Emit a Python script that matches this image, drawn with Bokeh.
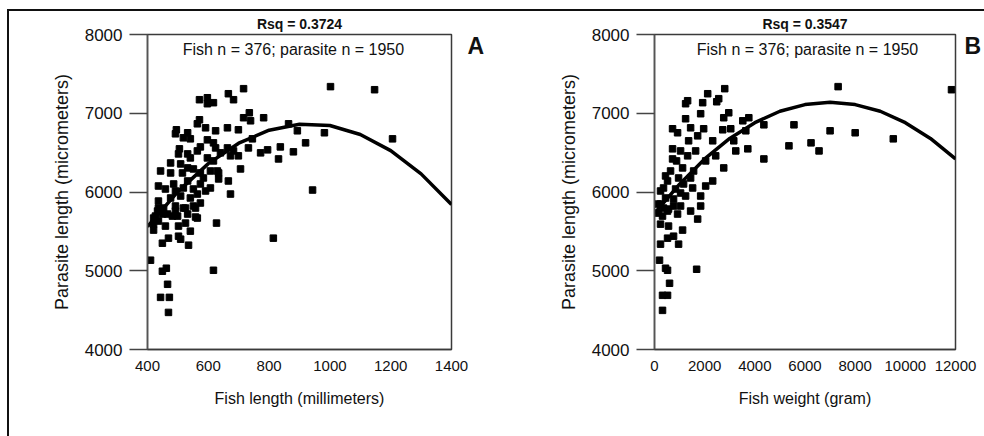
from bokeh.plotting import figure
from bokeh.models import Range1d, Label, FixedTicker, LinearAxis
from bokeh.layouts import row
from bokeh.embed import file_html
from bokeh.resources import INLINE

# ---------------- data ----------------
# Panel A: fish length (mm) vs parasite length (micrometers)
len_x = [716, 666, 683, 571, 597, 597, 617, 735, 716, 739, 782, 571, 564, 591, 624,
         663, 699, 495, 492, 532, 518, 541, 597, 617, 624, 574, 564, 505, 502, 532,
         541, 597, 663, 683, 673, 699, 640, 745, 732, 706, 772, 795, 837, 831, 880,
         864, 476, 509, 532, 443, 476, 515, 551, 574, 607, 630, 584, 607, 634, 634,
         666, 673, 436, 459, 486, 492, 518, 532, 551, 574, 476, 509, 541, 564, 436,
         453, 492, 518, 551, 574, 433, 466, 499, 532, 564, 420, 436, 426, 449, 482,
         420, 436, 492, 525, 558, 558, 627, 502, 541, 420, 469, 449, 502, 509, 535,
         814, 410, 449, 462, 617, 466, 443, 472, 469, 1002, 1147, 893, 982, 920, 1206,
         943, 459, 525, 591, 617]
len_y = [7312, 7248, 7172, 7172, 7197, 7121, 7134, 7006, 6943, 6904, 6943, 6917, 6866, 6815, 6777,
         6815, 6790, 6790, 6739, 6752, 6688, 6675, 6662, 6624, 6560, 6573, 6522, 6548, 6484, 6484,
         6433, 6433, 6560, 6522, 6459, 6459, 6497, 6675, 6560, 6293, 6497, 6535, 6573, 6420, 6510,
         6866, 6369, 6357, 6306, 6267, 6242, 6242, 6293, 6242, 6267, 6267, 6178, 6051, 6242, 6166,
         6140, 5974, 6076, 6038, 6102, 6013, 6051, 6140, 6038, 6102, 5924, 5949, 5924, 5974, 5885,
         5796, 5822, 5796, 5822, 5860, 5758, 5720, 5694, 5720, 5669, 5669, 5796, 5694, 5720, 5694,
         5592, 5631, 5758, 5796, 5796, 5682, 5605, 5567, 5503, 5516, 5414, 5350, 5439, 5401, 5325,
         5414, 5134, 4994, 5032, 5006, 4828, 4662, 4662, 4471, 7338, 7299, 6777, 6752, 6624, 6675,
         6025, 5567, 5605, 6013, 6395]

# Panel B: fish weight (g) vs parasite length (micrometers)
wt_x = [2800, 2120, 2560, 2480, 1920, 1320, 1240, 2960, 2760, 3520, 3760, 4360, 5560, 2720, 1240,
        720, 920, 1440, 1960, 1720, 2320, 3160, 3720, 3240, 5360, 6240, 6560, 4360, 2760, 2320,
        1520, 1840, 720, 1040, 1320, 720, 640, 1120, 1560, 960, 520, 360, 840, 1160, 440,
        760, 240, 560, 920, 160, 1720, 1040, 1440, 120, 360, 760, 1040, 320, 520, 240,
        560, 1120, 760, 520, 240, 960, 200, 440, 520, 1680, 600, 320, 520, 320, 7320,
        11840, 7000, 8000, 9520, 1240, 1440, 1840, 2040, 240, 880, 2040, 2440, 1640, 440, 1360,
        1840, 3040, 3640]
wt_y = [7312, 7248, 7185, 7146, 7134, 7159, 7121, 7006, 6943, 6904, 6943, 6853, 6853, 6790, 6930,
        6803, 6752, 6815, 6803, 6713, 6650, 6650, 6548, 6522, 6586, 6624, 6522, 6420, 6306, 6140,
        6051, 5949, 6548, 6522, 6459, 6420, 6267, 6306, 6267, 6178, 6140, 6051, 6038, 6102, 5924,
        5911, 5847, 5783, 5720, 5732, 5656, 5987, 6178, 5847, 5796, 5822, 5822, 5694, 5758, 5592,
        5567, 5516, 5439, 5414, 5338, 5338, 5134, 5032, 5006, 5019, 4841, 4688, 4688, 4497, 7338,
        7299, 6777, 6752, 6675, 5949, 5758, 5822, 6076, 6013, 6395, 6395, 6459, 6522, 6204, 6650,
        6994, 6803, 6777]

# Quadratic fit lines
fit_len_x = [400, 500, 600, 700, 800, 900, 1000, 1100, 1200, 1300, 1400]
fit_len_y = [5560, 6005, 6360, 6620, 6785, 6860, 6845, 6730, 6525, 6230, 5840]
fit_wt_x = [0, 1000, 2000, 3000, 4000, 5000, 6000, 7000, 8000, 9000, 10000, 11000, 12000]
fit_wt_y = [5730, 6100, 6420, 6680, 6880, 7025, 7110, 7140, 7110, 7025, 6880, 6680, 6420]

y_ticks = [4000, 5000, 6000, 7000, 8000]
len_ticks = [400, 600, 800, 1000, 1200, 1400]
wt_ticks = [0, 2000, 4000, 6000, 8000, 10000, 12000]
letter_level = 7850  # vertical position of the panel letters (A, B)

FONT = "Liberation Sans"


def panel(xs, ys, fx, fy, xr, xticks, xlabel, rsq, letter, width, bl, br,
          title_offset, note_x, letter_standoff):
    p = figure(width=width, height=425, output_backend="svg", toolbar_location=None,
               x_range=Range1d(*xr), y_range=Range1d(4000, 8000),
               min_border_left=bl, min_border_right=br, min_border_top=23,
               min_border_bottom=87)
    p.xgrid.visible = False
    p.ygrid.visible = False
    p.outline_line_color = "#3a3a3a"
    p.outline_line_width = 1.5
    p.background_fill_color = "white"
    p.border_fill_color = "white"

    p.title.text = rsq
    p.title.align = "center"
    p.title.text_font = FONT
    p.title.text_font_size = "14px"
    p.title.text_font_style = "bold"
    p.title.text_color = "#111111"
    p.title.standoff = 5
    p.title.offset = title_offset

    p.scatter(xs, ys, marker="square", size=6.5, color="black")
    p.line(fx, fy, line_color="black", line_width=3.5)

    ya = p.yaxis[0]
    ya.ticker = FixedTicker(ticks=y_ticks)
    ya.major_tick_out = 18
    ya.major_tick_in = 0
    ya.minor_tick_out = 0
    ya.minor_tick_in = 0
    ya.axis_line_color = "#555555"
    ya.axis_line_width = 1.5
    ya.major_tick_line_color = "#444444"
    ya.major_tick_line_width = 1.5
    ya.major_label_standoff = 7
    ya.major_label_text_font = FONT
    ya.major_label_text_font_size = "17px"
    ya.major_label_text_color = "#111111"
    ya.axis_label = "Parasite length (micrometers)"
    ya.axis_label_text_font = FONT
    ya.axis_label_text_font_size = "18px"
    ya.axis_label_text_font_style = "normal"
    ya.axis_label_text_color = "#111111"
    ya.axis_label_standoff = 10

    xa = p.xaxis[0]
    xa.ticker = FixedTicker(ticks=xticks)
    xa.major_tick_out = 0
    xa.major_tick_in = 0
    xa.minor_tick_out = 0
    xa.minor_tick_in = 0
    xa.axis_line_color = "#3a3a3a"
    xa.axis_line_width = 1.5
    xa.major_label_standoff = 11
    xa.major_label_text_font = FONT
    xa.major_label_text_font_size = "15px"
    xa.major_label_text_color = "#111111"
    xa.axis_label = xlabel
    xa.axis_label_text_font = FONT
    xa.axis_label_text_font_size = "16px"
    xa.axis_label_text_font_style = "normal"
    xa.axis_label_text_color = "#111111"
    xa.axis_label_standoff = 16

    # panel letter, drawn as the single label of an unlined right-hand axis
    ra = LinearAxis(ticker=FixedTicker(ticks=[letter_level]),
                    major_label_overrides={letter_level: letter},
                    axis_line_color=None, major_tick_line_color=None,
                    minor_tick_line_color=None, major_tick_out=0, major_tick_in=0,
                    major_label_standoff=letter_standoff,
                    major_label_text_font=FONT, major_label_text_font_size="23px",
                    major_label_text_font_style="bold", major_label_text_color="#111111")
    p.add_layout(ra, "right")

    p.add_layout(Label(x=note_x, y=7809, text="Fish n = 376; parasite n = 1950", text_font=FONT,
                       text_font_size="16px", text_align="center", text_baseline="middle",
                       text_color="#111111"))
    return p


pA = panel(len_x, len_y, fit_len_x, fit_len_y, (400, 1400), len_ticks,
           "Fish length (millimeters)", "Rsq = 0.3724", "A", 491, 138, 49,
           -13, 880, 16)
pB = panel(wt_x, wt_y, fit_wt_x, fit_wt_y, (0, 12000), wt_ticks,
           "Fish weight (gram)", "Rsq = 0.3547", "B", 484, 154, 29,
           -1, 6100, 9)

layout = row(pA, pB, margin=(9, 0, 0, 7),
             styles={"border-top": "2px solid #111111", "border-left": "2px solid #111111"})

open("out.html", "w").write(file_html(layout, INLINE))
